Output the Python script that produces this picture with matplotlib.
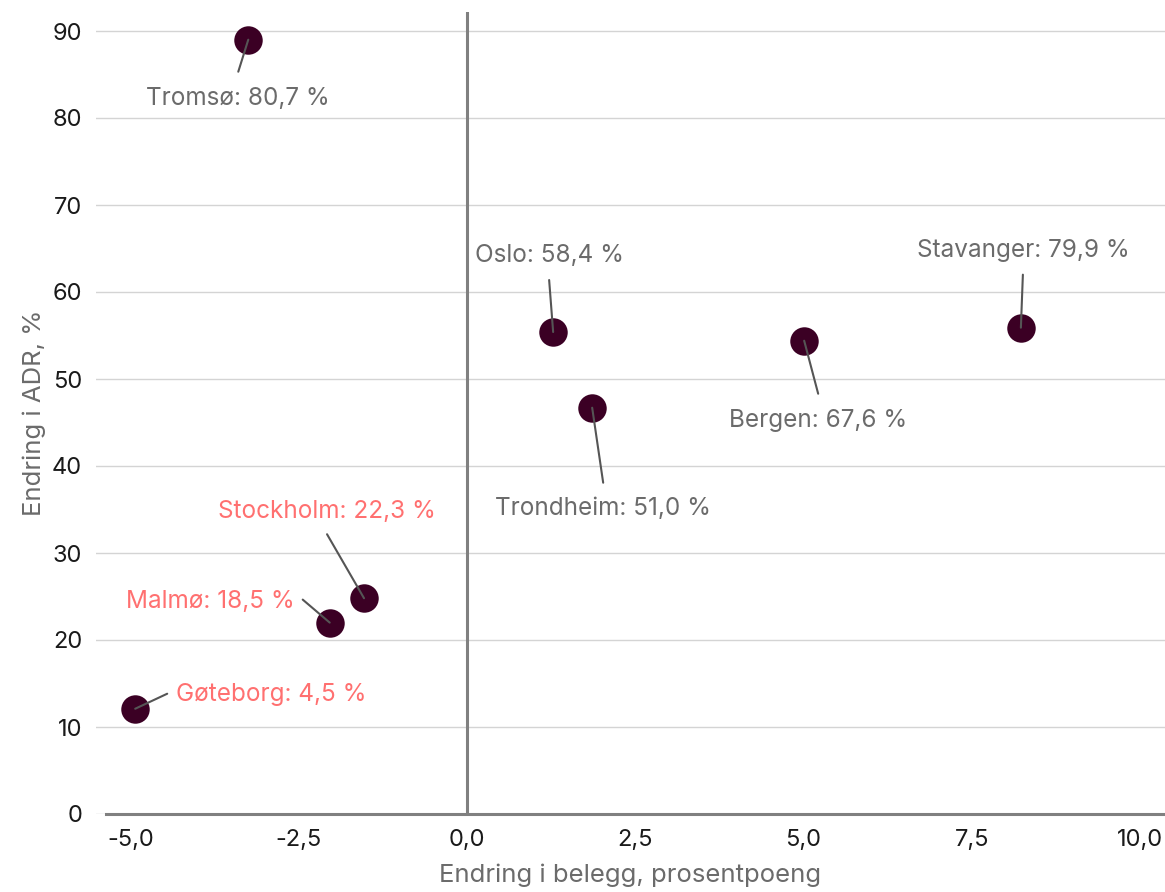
import matplotlib
matplotlib.use("Agg")
import matplotlib.pyplot as plt
from matplotlib.ticker import FuncFormatter

# ---- data ----
cities = ["Tromsø", "Oslo", "Trondheim", "Bergen", "Stavanger", "Stockholm", "Malmø", "Gøteborg"]
occ_change = [-3.25, 1.28, 1.86, 5.01, 8.23, -1.53, -2.04, -4.93]
adr_change = [89.0, 55.4, 46.7, 54.4, 55.9, 24.8, 22.0, 12.1]
label_values = ["80,7", "58,4", "51,0", "67,6", "79,9", "22,3", "18,5", "4,5"]
swedish = [False, False, False, False, False, True, True, True]
x_ticks = [-5.0, -2.5, 0.0, 2.5, 5.0, 7.5, 10.0]
y_ticks = [0, 10, 20, 30, 40, 50, 60, 70, 80, 90]

# label layout (pixel offsets: line end dx, dy ; text dx, dy ; ha) - image coords (down positive)
layout = {
    "Tromsø":    ((-10, 32), (-10, 59), "center"),
    "Oslo":      ((-4, -52), (-4, -77), "center"),
    "Trondheim": ((11, 75), (11, 101), "center"),
    "Bergen":    ((14, 53), (14, 80), "center"),
    "Stavanger": ((2, -53), (2, -77), "center"),
    "Stockholm": ((-37, -64), (-37, -87), "center"),
    "Malmø":     ((-27, -23), (-35, -21), "right"),
    "Gøteborg":  ((32, -15), (41, -14), "left"),
}

plt.rcParams['font.family'] = ['Inter', 'DejaVu Sans']

W, H = 1165, 892
fig = plt.figure(figsize=(W / 100, H / 100), dpi=100)
ax_left, ax_right, ax_top, ax_bottom = 96, 1165, 12, 814
ax = fig.add_axes([ax_left / W, (H - ax_bottom) / H, (ax_right - ax_left) / W, (ax_bottom - ax_top) / H])

px_per_x = 67.3
x0_px = 467
ax.set_xlim((ax_left - x0_px) / px_per_x, (ax_right - x0_px) / px_per_x)
ax.set_ylim(0, (ax_bottom - ax_top) / 8.7)

ax.set_yticks(y_ticks)
ax.set_xticks(x_ticks)
ax.yaxis.grid(True, color="#d4d4d4", linewidth=1.0)
ax.set_axisbelow(True)
for s in ["top", "right", "left"]:
    ax.spines[s].set_visible(False)
ax.spines["bottom"].set_color("#808080")
ax.spines["bottom"].set_linewidth(2.2)
ax.spines["bottom"].set_bounds((106 - x0_px) / px_per_x, ax.get_xlim()[1])
ax.axvline(0, color="#808080", linewidth=2.2, zorder=1)

ax.tick_params(axis="both", length=0, labelsize=17, labelcolor="#1a1a1a")
ax.tick_params(axis="y", pad=10)
ax.tick_params(axis="x", pad=11)
ax.xaxis.set_major_formatter(FuncFormatter(lambda v, p: f"{v:.1f}".replace(".", ",")))

ax.set_xlabel("Endring i belegg, prosentpoeng", fontsize=18.5, color="#6b6b6b", labelpad=9)
ax.set_ylabel("Endring i ADR, %", fontsize=18.5, color="#6b6b6b", labelpad=4)

ax.scatter(occ_change, adr_change, s=420, color="#3b0024", zorder=3, linewidths=0)

for c, x, y, v, sw in zip(cities, occ_change, adr_change, label_values, swedish):
    (ldx, ldy), (tdx, tdy), ha = layout[c]
    ax.annotate("", xy=(x, y), xytext=(ldx, -ldy), textcoords="offset pixels",
                arrowprops=dict(arrowstyle="-", color="#555555", lw=1.5, shrinkA=0, shrinkB=0),
                zorder=4)
    ax.annotate(f"{c}: {v} %", xy=(x, y), xytext=(tdx, -tdy), textcoords="offset pixels",
                ha=ha, va="center", fontsize=17.5,
                color="#ff7070" if sw else "#6b6b6b", zorder=5)

fig.savefig("out.png", dpi=100)
